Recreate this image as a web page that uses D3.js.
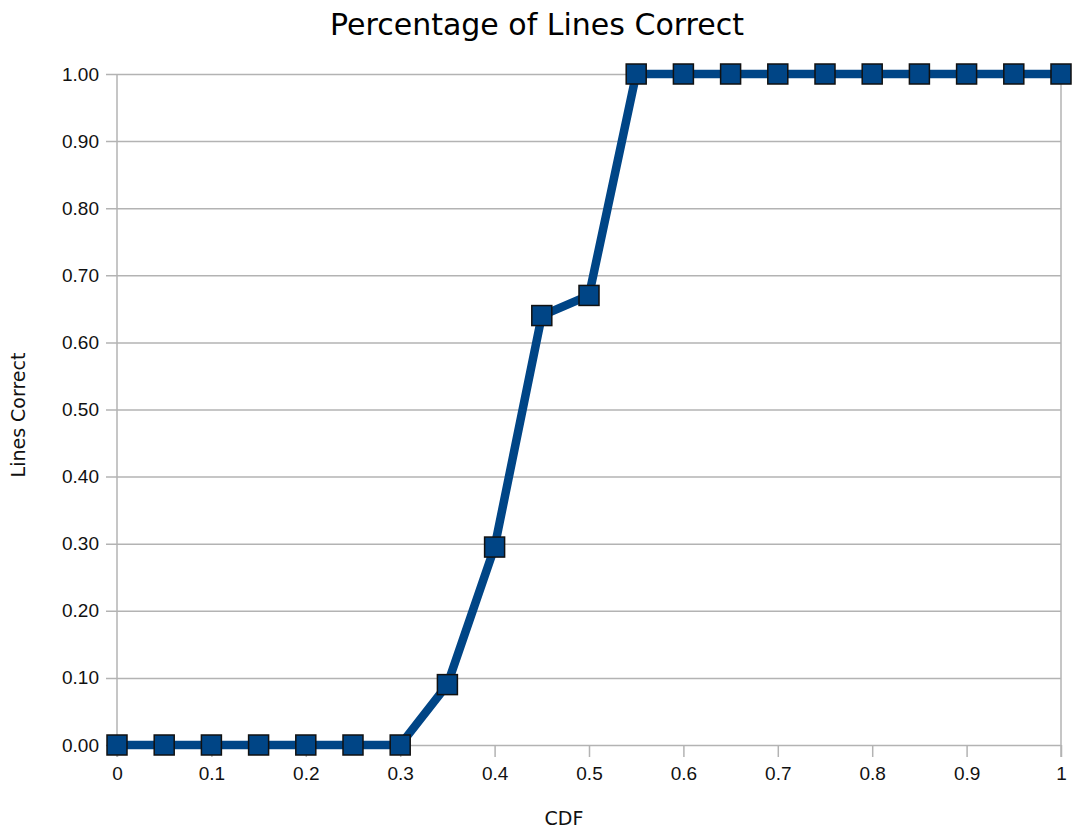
<!DOCTYPE html>
<html>
<head>
<meta charset="utf-8">
<script src="https://cdn.jsdelivr.net/npm/d3@7"></script>
<style>
  body { margin: 0; background: #fff; }
  svg { font-family: "DejaVu Sans", sans-serif; }
</style>
</head>
<body>
<svg width="1073" height="829"></svg>
<script>
var cdf = [0, 0.05, 0.1, 0.15, 0.2, 0.25, 0.3, 0.35, 0.4, 0.45, 0.5,
  0.55, 0.6, 0.65, 0.7, 0.75, 0.8, 0.85, 0.9, 0.95, 1];
var linesCorrect = [0, 0, 0, 0, 0, 0, 0, 0.09, 0.295, 0.64, 0.67,
  1, 1, 1, 1, 1, 1, 1, 1, 1, 1];
var xTicks = [0, 0.1, 0.2, 0.3, 0.4, 0.5, 0.6, 0.7, 0.8, 0.9, 1];
var yTicks = [0, 0.1, 0.2, 0.3, 0.4, 0.5, 0.6, 0.7, 0.8, 0.9, 1];

var plotLeft = 117, plotRight = 1061, plotTop = 74, plotBottom = 745;

var svg = d3.select( "svg" );

var x = d3.scaleLinear().domain( [ 0, 1 ] ).range( [ plotLeft, plotRight ] );
var y = d3.scaleLinear().domain( [ 0, 1 ] ).range( [ plotBottom, plotTop ] );

// grid + y axis
var yAxis = d3.axisLeft( y )
  .tickValues( yTicks )
  .tickFormat( d3.format( ".2f" ) )
  .tickSize( 0 );

var gy = svg.append( "g" )
  .attr( "transform", "translate(" + plotRight + ",0)" )
  .call( yAxis );
gy.select( ".domain" ).remove();
gy.selectAll( ".tick line" )
  .attr( "x2", -( plotRight - plotLeft ) - 11 )
  .attr( "stroke", "#b3b3b3" ).attr( "stroke-width", 1.5 );
gy.selectAll( ".tick text" )
  .attr( "x", -( plotRight - plotLeft ) - 18 )
  .style( "font-size", "19px" ).attr( "fill", "#111" );

// x axis
var xAxis = d3.axisBottom( x )
  .tickValues( xTicks )
  .tickFormat( d => String( +d.toFixed( 1 ) ) )
  .tickSize( 12 )
  .tickPadding( 10 );

var gx = svg.append( "g" )
  .attr( "transform", "translate(0," + plotBottom + ")" )
  .call( xAxis );
gx.select( ".domain" ).remove();
gx.selectAll( ".tick line" ).attr( "stroke", "#b3b3b3" ).attr( "stroke-width", 1.5 );
gx.selectAll( ".tick text" ).style( "font-size", "19px" ).attr( "fill", "#111" );

// plot frame sides
svg.append( "line" )
  .attr( "x1", plotLeft ).attr( "x2", plotLeft ).attr( "y1", plotTop ).attr( "y2", plotBottom + 12 )
  .attr( "stroke", "#b3b3b3" ).attr( "stroke-width", 1.5 );
svg.append( "line" )
  .attr( "x1", plotRight ).attr( "x2", plotRight ).attr( "y1", plotTop ).attr( "y2", plotBottom + 12 )
  .attr( "stroke", "#b3b3b3" ).attr( "stroke-width", 1.5 );

var points = cdf.map( ( c, i ) => [ c, linesCorrect[ i ] ] );

var line = d3.line()
  .x( d => x( d[ 0 ] ) )
  .y( d => y( d[ 1 ] ) );

svg.append( "path" )
  .datum( points )
  .attr( "d", line )
  .attr( "fill", "none" )
  .attr( "stroke", "#004586" )
  .attr( "stroke-width", 8.5 )
  .attr( "stroke-linejoin", "round" );

svg.selectAll( "rect.marker" )
  .data( points )
  .enter().append( "rect" )
    .attr( "class", "marker" )
    .attr( "x", d => x( d[ 0 ] ) - 10 )
    .attr( "y", d => y( d[ 1 ] ) - 10 )
    .attr( "width", 20 )
    .attr( "height", 20 )
    .attr( "fill", "#004586" )
    .attr( "stroke", "#111" )
    .attr( "stroke-width", 1.5 );

// titles
svg.append( "text" )
  .attr( "x", 537 ).attr( "y", 35 )
  .attr( "text-anchor", "middle" )
  .style( "font-size", "30px" )
  .text( "Percentage of Lines Correct" );

svg.append( "text" )
  .attr( "x", 564 ).attr( "y", 825 )
  .attr( "text-anchor", "middle" )
  .style( "font-size", "19px" ).attr( "fill", "#111" )
  .text( "CDF" );

svg.append( "text" )
  .attr( "transform", "translate(25,415) rotate(-90)" )
  .attr( "text-anchor", "middle" )
  .style( "font-size", "19px" ).attr( "fill", "#111" )
  .text( "Lines Correct" );
</script>
</body>
</html>
